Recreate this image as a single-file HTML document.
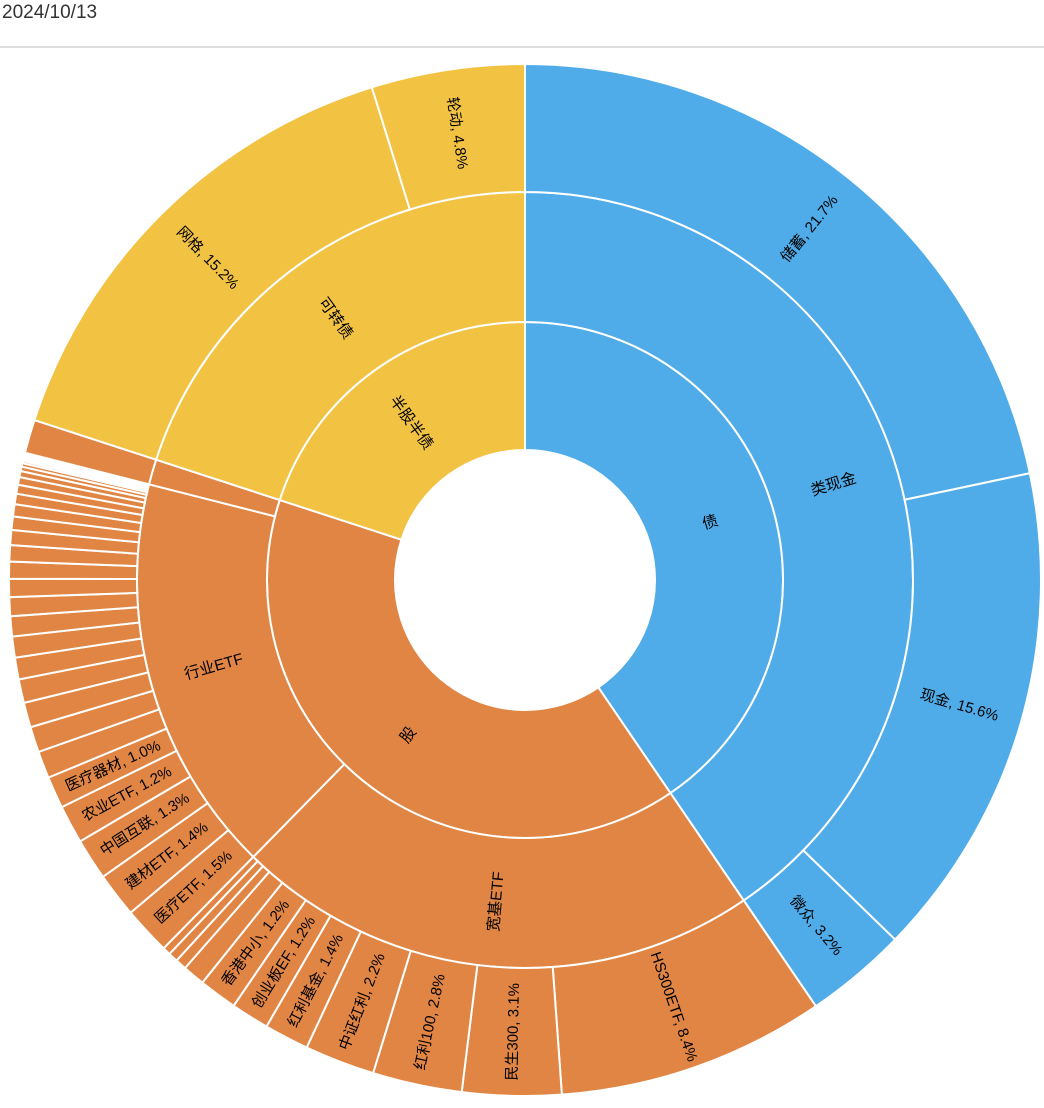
<!DOCTYPE html>
<html><head><meta charset="utf-8">
<style>
html,body{margin:0;padding:0;background:#fff;width:1044px;height:1108px;overflow:hidden;font-family:"Liberation Sans","Noto Sans CJK SC",sans-serif;}
#title{position:absolute;left:2px;top:2px;font-size:19px;color:#333;}
#rule{position:absolute;left:0;top:46px;width:1044px;height:2px;background:#ddd;}
svg{position:absolute;left:0;top:0;}
</style></head>
<body>
<div id="title">2024/10/13</div>
<div id="rule"></div>
<svg id="chart" width="1044" height="1108"></svg>
<script>
// Level-1 categories
const level1Names = ["债", "股", "半股半债"];
const level1Colors = ["#4FACE8", "#E08543", "#F2C343"];
// Level-2 nodes (parent index into level1)
const level2Names = ["类现金", "宽基ETF", "行业ETF", "", "可转债"];
const level2Parent = [0, 1, 1, 1, 2];
// Leaves (parent index into level2), values in %
const leafNames = ["储蓄", "现金", "微众",
  "HS300ETF", "民生300", "红利100", "中证红利", "红利基金", "创业板EF", "香港中小", "", "", "", "",
  "医疗ETF", "建材ETF", "中国互联", "农业ETF", "医疗器材",
  "", "", "", "", "", "", "", "", "", "", "", "", "", "", "", "", "", "", "", "", "", "", "", "", "GAP",
  "",
  "网格", "轮动"];
const leafValues = [21.7, 15.6, 3.2,
  8.4, 3.1, 2.8, 2.2, 1.4, 1.2, 1.2, 0.7, 0.35, 0.3, 0.25,
  1.5, 1.4, 1.3, 1.2, 1.0,
  0.85, 0.8, 0.78, 0.74, 0.68, 0.66, 0.63, 0.59, 0.57, 0.53, 0.51, 0.47, 0.42, 0.38, 0.33, 0.28, 0.24, 0.19, 0.14, 0.11, 0.07, 0.05, 0.04, 0.02, 0.15,
  1.05,
  15.2, 4.8];
const leafParent = [0, 0, 0,
  1, 1, 1, 1, 1, 1, 1, 1, 1, 1, 1,
  2, 2, 2, 2, 2,
  2, 2, 2, 2, 2, 2, 2, 2, 2, 2, 2, 2, 2, 2, 2, 2, 2, 2, 2, 2, 2, 2, 2, 2, 2,
  3,
  4, 4];

const cx = 525, cy = 580;
const radii = [130, 258, 388, 516];
const svg = document.getElementById('chart');
const NS = 'http://www.w3.org/2000/svg';
const total = leafValues.reduce((a, b) => a + b, 0);
const angleOf = v => v / total * 360;

function pt(r, a) { const t = a * Math.PI / 180; return [cx + r * Math.sin(t), cy - r * Math.cos(t)]; }
function arcPath(r0, r1, a0, a1) {
  const large = (a1 - a0) > 180 ? 1 : 0;
  const p1 = pt(r1, a0), p2 = pt(r1, a1), p3 = pt(r0, a1), p4 = pt(r0, a0);
  return `M${p1[0]},${p1[1]} A${r1},${r1} 0 ${large} 1 ${p2[0]},${p2[1]} L${p3[0]},${p3[1]} A${r0},${r0} 0 ${large} 0 ${p4[0]},${p4[1]} Z`;
}
function label(text, r, a, size) {
  const p = pt(r, a);
  let rot = a > 180 ? a - 270 : a - 90;
  const t = document.createElementNS(NS, 'text');
  t.setAttribute('x', p[0]); t.setAttribute('y', p[1]);
  t.setAttribute('text-anchor', 'middle'); t.setAttribute('dominant-baseline', 'central');
  t.setAttribute('font-size', size);
  t.setAttribute('fill', '#000');
  t.setAttribute('transform', `rotate(${rot} ${p[0]} ${p[1]})`);
  t.textContent = text;
  
  
  svg.appendChild(t);
}
function slice(r0, r1, a0, a1, color, name) {
  const p = document.createElementNS(NS, 'path');
  p.setAttribute('d', arcPath(r0, r1, a0, a1));
  p.setAttribute('fill', color);
  p.setAttribute('stroke', '#fff');
  p.setAttribute('stroke-width', '2');
  
  
  svg.appendChild(p);
}

const l2Sum = level2Names.map((_, i) => leafValues.reduce((s, v, j) => s + (leafParent[j] === i ? v : 0), 0));
const l1Sum = level1Names.map((_, i) => l2Sum.reduce((s, v, j) => s + (level2Parent[j] === i ? v : 0), 0));

let a = 0; const labels = [];
level1Names.forEach((n, i) => {
  const a1 = a + angleOf(l1Sum[i]);
  slice(radii[0], radii[1], a, a1, level1Colors[i], 'ring1-slice');
  labels.push([n, (radii[0] + radii[1]) / 2, (a + a1) / 2, 15.5]);
  a = a1;
});
a = 0;
level2Names.forEach((n, i) => {
  const a1 = a + angleOf(l2Sum[i]);
  slice(radii[1], radii[2], a, a1, level1Colors[level2Parent[i]], 'ring2-slice');
  if (n) labels.push([n, (radii[1] + radii[2]) / 2, (a + a1) / 2, 15.5]);
  a = a1;
});
a = 0;
leafNames.forEach((n, i) => {
  const a1 = a + angleOf(leafValues[i]);
  const color = n === 'GAP' ? '#fff' : level1Colors[level2Parent[leafParent[i]]];
  slice(radii[2], radii[3], a, a1, color, 'leaf-slice');
  if (n && n !== 'GAP' && leafValues[i] >= 1.0) labels.push([n + ', ' + leafValues[i].toFixed(1) + '%', (radii[2] + radii[3]) / 2, (a + a1) / 2, 15]);
  a = a1;
});
labels.forEach(l => label(l[0], l[1], l[2], l[3]));
</script>
</body></html>
